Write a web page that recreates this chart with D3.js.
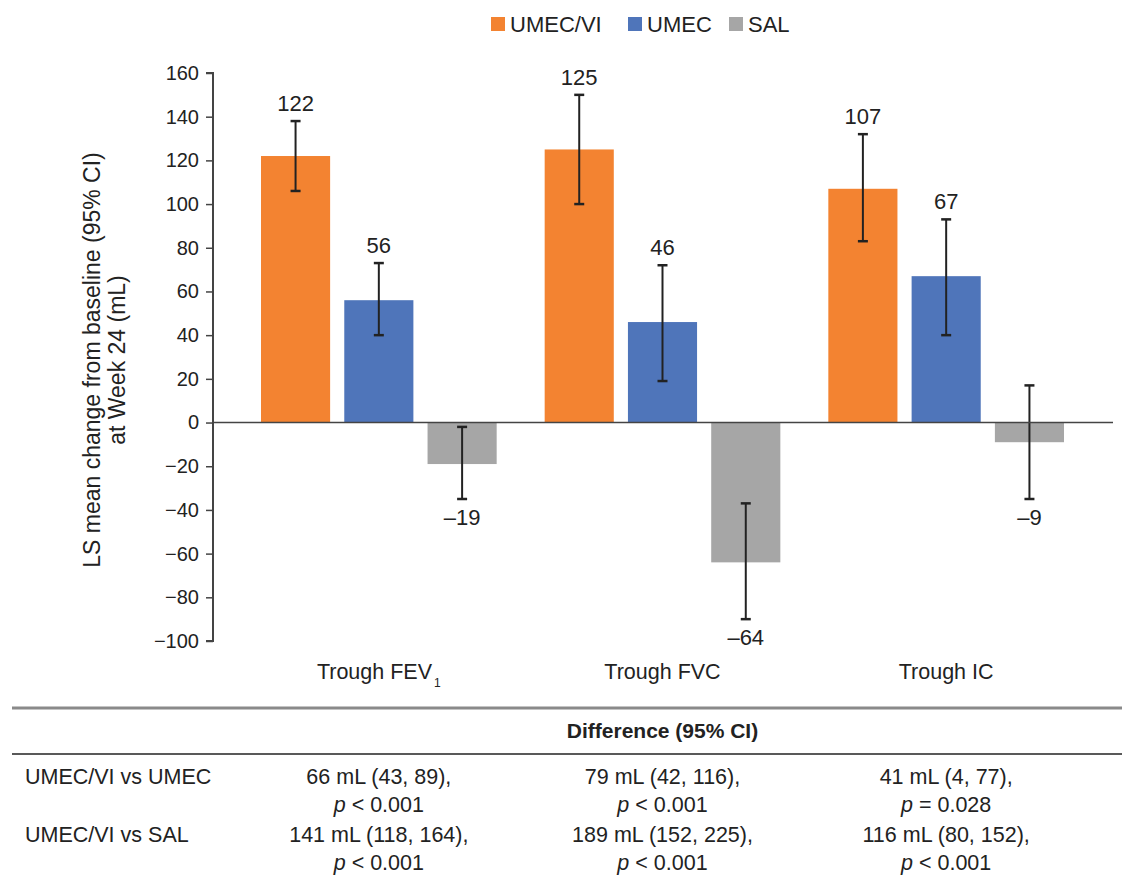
<!DOCTYPE html>
<html>
<head>
<meta charset="utf-8">
<script src="https://cdn.jsdelivr.net/npm/d3@7"></script>
<style>
body { margin: 0; background: #fff; }
svg text { font-family: "Liberation Sans", Arial, sans-serif; fill: #222; }
</style>
</head>
<body>
<div id="chart"></div>
<script>
var w = 1122, h = 882;

// Data
var outcomes = ["Trough FEV1", "Trough FVC", "Trough IC"];
var treatments = ["UMEC/VI", "UMEC", "SAL"];
var colors = ["#F38331", "#4F75BA", "#A6A6A6"];
var umecViMean = [122, 125, 107];
var umecViLow = [106, 100, 83];
var umecViHigh = [138, 150, 132];
var umecMean = [56, 46, 67];
var umecLow = [40, 19, 40];
var umecHigh = [73, 72, 93];
var salMean = [-19, -64, -9];
var salLow = [-35, -90, -35];
var salHigh = [-2, -37, 17];
var yTicks = [-100, -80, -60, -40, -20, 0, 20, 40, 60, 80, 100, 120, 140, 160];

// Table
var rowLabels = ["UMEC/VI vs UMEC", "UMEC/VI vs SAL"];
var diffText = [
	["66 mL (43, 89),", "79 mL (42, 116),", "41 mL (4, 77),"],
	["141 mL (118, 164),", "189 mL (152, 225),", "116 mL (80, 152),"]
];
var pSign = [["<", "<", "="], ["<", "<", "<"]];
var pValue = [["0.001", "0.001", "0.028"], ["0.001", "0.001", "0.001"]];

var means = [umecViMean, umecMean, salMean];
var lows = [umecViLow, umecLow, salLow];
var highs = [umecViHigh, umecHigh, salHigh];

var records = [];
outcomes.forEach(function(o, i) {
	treatments.forEach(function(t, j) {
		records.push({outcome: o, treatment: t, idx: j,
			mean: means[j][i], low: lows[j][i], high: highs[j][i]});
	});
});

var svg = d3.select("#chart").append("svg")
	.attr("width", w)
	.attr("height", h);

// Scales
var axisX = 213, zeroEnd = 1113;
var y = d3.scaleLinear()
	.domain([-100, 160])
	.range([641, 73]);

var x0 = d3.scaleBand()
	.domain(outcomes)
	.range([237, 1088])
	.padding(0);

var x1 = d3.scaleBand()
	.domain(treatments)
	.range([24, x0.bandwidth() - 24])
	.paddingInner(0.17);

var color = d3.scaleOrdinal().domain(treatments).range(colors);
var mid = function(d) { return x0(d) + x0.bandwidth() / 2; };

// Y axis
var yAxis = svg.append("g")
	.attr("transform", "translate(" + axisX + ",0)")
	.call(d3.axisLeft(y).tickValues(yTicks).tickSize(7).tickPadding(7)
		.tickFormat(function(d) { return d < 0 ? "\u2212" + Math.abs(d) : d; }));
yAxis.select(".domain").attr("stroke", "#444").attr("stroke-width", 2)
	.attr("d", "M-7," + y(-100) + "H0V" + y(160) + "H-7");
yAxis.selectAll(".tick line").attr("stroke", "#444").attr("stroke-width", 1.5);
yAxis.selectAll(".tick text").style("font-size", "20px").attr("fill", "#222");

// Bars
var groups = svg.append("g").selectAll("g")
	.data(records)
	.enter()
	.append("g")
		.attr("transform", function(d) { return "translate(" + (x0(d.outcome) + x1(d.treatment)) + ",0)"; });

groups.append("rect")
	.attr("x", 0)
	.attr("width", x1.bandwidth())
	.attr("y", function(d) { return y(Math.max(0, d.mean)); })
	.attr("height", function(d) { return Math.abs(y(d.mean) - y(0)); })
	.attr("fill", function(d) { return color(d.treatment); });

// Zero line
svg.append("line")
	.attr("x1", axisX).attr("x2", zeroEnd)
	.attr("y1", y(0)).attr("y2", y(0))
	.attr("stroke", "#444").attr("stroke-width", 1.5);

// Error bars
var cx = x1.bandwidth() / 2;
groups.append("line")
	.attr("x1", cx).attr("x2", cx)
	.attr("y1", function(d) { return y(d.low); })
	.attr("y2", function(d) { return y(d.high); })
	.attr("stroke", "#222").attr("stroke-width", 2);
groups.selectAll("line.cap")
	.data(function(d) { return [d.low, d.high]; })
	.enter()
	.append("line")
		.attr("class", "cap")
		.attr("x1", cx - 5).attr("x2", cx + 5)
		.attr("y1", function(v) { return y(v); })
		.attr("y2", function(v) { return y(v); })
		.attr("stroke", "#222").attr("stroke-width", 2.5);

// Value labels
groups.append("text")
	.attr("x", cx)
	.attr("y", function(d) { return d.mean >= 0 ? y(d.high) - 10 : y(d.low) + 26; })
	.attr("text-anchor", "middle")
	.style("font-size", "22px")
	.text(function(d) { return d.mean < 0 ? "\u2013" + Math.abs(d.mean) : d.mean; });

// Category labels
var catLabels = svg.append("g").selectAll("text")
	.data(outcomes)
	.enter()
	.append("text")
		.attr("x", mid)
		.attr("y", 679)
		.attr("text-anchor", "middle")
		.style("font-size", "21.5px");
catLabels.each(function(d) {
	var t = d3.select(this);
	if (d === "Trough FEV1") {
		t.append("tspan").text("Trough FEV");
		t.append("tspan").text("1").attr("dx", 2).attr("dy", 8).style("font-size", "12px");
	} else {
		t.text(d);
	}
});

// Y axis title
svg.append("text")
	.attr("transform", "translate(100,360) rotate(-90)")
	.attr("text-anchor", "middle")
	.style("font-size", "23px")
	.text("LS mean change from baseline (95% CI)");
svg.append("text")
	.attr("transform", "translate(125,360) rotate(-90)")
	.attr("text-anchor", "middle")
	.style("font-size", "23px")
	.text("at Week 24 (mL)");

// Legend
var legendX = [491, 628, 729];
var legend = svg.append("g").selectAll("g")
	.data(treatments)
	.enter()
	.append("g")
		.attr("transform", function(d, i) { return "translate(" + legendX[i] + ",17)"; });
legend.append("rect")
	.attr("width", 14).attr("height", 14)
	.attr("fill", function(d) { return color(d); });
legend.append("text")
	.attr("x", 19).attr("y", 15)
	.style("font-size", "22px")
	.text(function(d) { return d; });

// Table
var table = svg.append("g");
table.append("line")
	.attr("x1", 12).attr("x2", w)
	.attr("y1", 708).attr("y2", 708)
	.attr("stroke", "#8a8a8a").attr("stroke-width", 3);
table.append("line")
	.attr("x1", 12).attr("x2", w)
	.attr("y1", 754).attr("y2", 754)
	.attr("stroke", "#222").attr("stroke-width", 1.5);
table.append("text")
	.attr("x", mid(outcomes[1])).attr("y", 738)
	.attr("text-anchor", "middle")
	.style("font-size", "21px").style("font-weight", "bold")
	.text("Difference (95% CI)");

var rowY = [784, 842];
rowLabels.forEach(function(r, i) {
	table.append("text")
		.attr("x", 25).attr("y", rowY[i])
		.style("font-size", "21.5px")
		.text(r);
	outcomes.forEach(function(o, j) {
		table.append("text")
			.attr("x", mid(o)).attr("y", rowY[i])
			.attr("text-anchor", "middle")
			.style("font-size", "21.5px")
			.text(diffText[i][j]);
		var p = table.append("text")
			.attr("x", mid(o)).attr("y", rowY[i] + 28)
			.attr("text-anchor", "middle")
			.style("font-size", "21.5px");
		p.append("tspan").style("font-style", "italic").text("p");
		p.append("tspan").text(" " + pSign[i][j] + " " + pValue[i][j]);
	});
});
</script>
</body>
</html>
